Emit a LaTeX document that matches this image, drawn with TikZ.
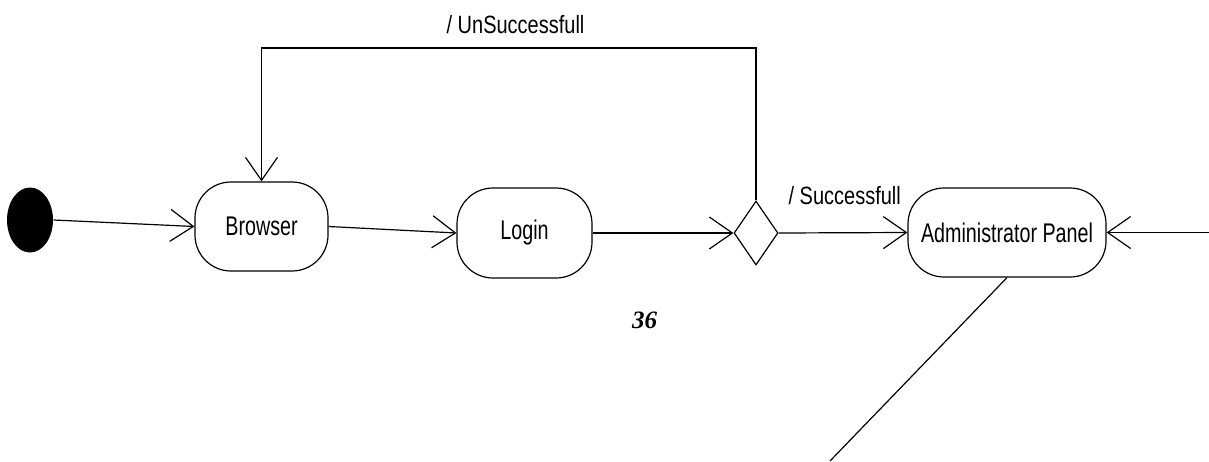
\documentclass[tikz,border=0pt]{standalone}
\usepackage{fontspec}
\usepackage{graphicx}
\usetikzlibrary{shapes.geometric,arrows.meta}
\newfontfamily\statefont{Liberation Sans}
\newfontfamily\pagenumfont{Liberation Serif}
% condensed sans text for states and guards
\newcommand{\statetext}[1]{\scalebox{0.73}[1]{\statefont\fontsize{27}{32}\selectfont #1}}
\newcommand{\guardtext}[1]{\scalebox{0.8}[1]{\statefont\fontsize{25}{30}\selectfont #1}}
\tikzset{
  every path/.style={line width=1.2pt},
  statebox/.style={draw, line width=1.2pt, rectangle, rounded corners=36pt,
    minimum height=89pt, inner sep=0pt, fill=white},
  choice/.style={draw, line width=1.2pt, diamond, minimum width=44pt,
    minimum height=64pt, inner sep=0pt},
  startdot/.style={ellipse, fill=black, minimum width=46pt, minimum height=65pt,
    inner sep=0pt},
  flow/.style={-{Straight Barb[length=23pt,width=32pt,line width=1.2pt]}},
}
\begin{document}
\begin{tikzpicture}[x=1pt,y=-1pt]
\useasboundingbox (0,0) rectangle (1209,461);

% states
\node[startdot] (init) at (30,220) {};
\node[statebox, minimum width=133pt] (browser) at (261.5,226.5) {\statetext{Browser}};
\node[statebox, minimum width=135pt, minimum height=90pt] (login) at (524.5,233) {\statetext{Login}};
\node[choice] (check) at (756,233) {};
\node[statebox, minimum width=198pt] (admin) at (1007,232.5) {\statetext{Administrator Panel}};

% free ends and bends
\coordinate (loopR) at (756,48);
\coordinate (loopL) at (261.5,48);
\coordinate (rightIn) at (1209,232.5);
\coordinate (downOut) at (830,461);

% transitions
\draw[flow] (init.east) -- (browser.west);
\draw[flow] (browser.east) -- (login.west);
\draw[flow] (login.east) -- (check.west);
\draw[flow] (check.north) -- (loopR) -- (loopL) -- (browser.north);
\draw[flow] (check.east) -- (admin.west);
\draw[flow] (rightIn) -- (admin.east);
\draw (admin.south) -- (downOut);

% guard labels
\node[anchor=base, inner sep=0pt] (lblfail) at (515.5,33) {\guardtext{/ UnSuccessfull}};
\node[anchor=base west, inner sep=0pt] (lblok) at (788,204) {\guardtext{/ Successfull}};

% page number
\node[anchor=base, inner sep=0pt] (pagenum) at (644.5,328)
  {\pagenumfont\bfseries\itshape\fontsize{25}{30}\selectfont 36};
\end{tikzpicture}
\end{document}
